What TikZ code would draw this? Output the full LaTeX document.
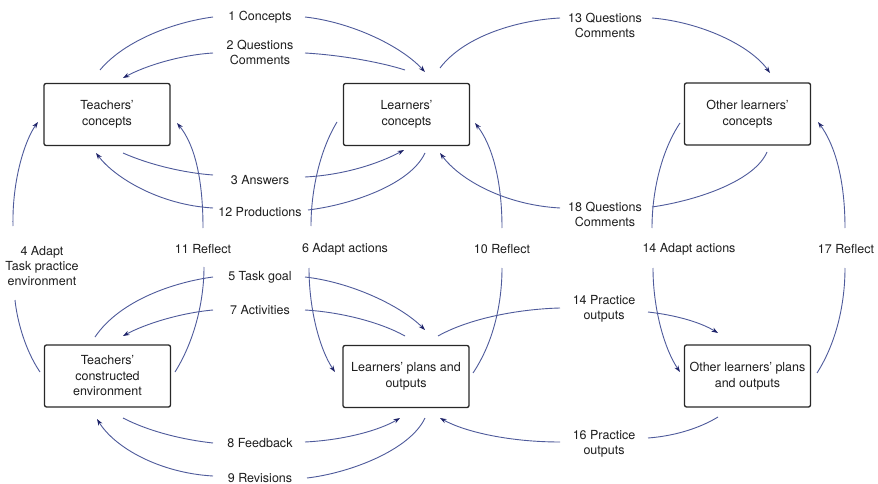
\documentclass[tikz,border=0pt]{standalone}
\usepackage{fontspec}
\setmainfont{TeX Gyre Heros}
\usetikzlibrary{arrows.meta}
\definecolor{lnc}{RGB}{78,90,155}
\definecolor{tipc}{RGB}{30,35,105}
\definecolor{txc}{RGB}{30,30,30}
\definecolor{boxc}{RGB}{40,40,40}
\tikzset{
  box/.style={draw=boxc, line width=1.3pt, rounded corners=2pt, minimum width=126pt, minimum height=62pt, align=center, text=txc, inner sep=2pt, font=\fontsize{12.5}{15.5}\selectfont},
  lab/.style={align=center, text=txc, inner sep=0pt, font=\fontsize{12.5}{15}\selectfont},
  ln/.style={draw=lnc, line width=0.9pt},
  arr/.style={ln, -{Stealth[length=6.5pt,width=4.5pt,color=tipc,fill=tipc]}}
}
\begin{document}
\begin{tikzpicture}[x=1pt,y=-1pt]
\useasboundingbox (0,0) rectangle (878,484);
\fill[white] (0,0) rectangle (878,484);
% boxes
\node[box] (tc) at (107,114.5) {Teachers’\\concepts};
\node[box] (lc) at (406.5,114.5) {Learners’\\concepts};
\node[box] (oc) at (747.5,114) {Other learners’\\concepts};
\node[box] (te) at (107.5,376) {Teachers’\\constructed\\environment};
\node[box] (lp) at (406,376.5) {Learners’ plans and\\outputs};
\node[box] (op) at (747.5,376) {Other learners’ plans\\and outputs};
% labels
\node[lab] (l1) at (260,17) {1 Concepts};
\node[lab] (l2) at (260,52) {2 Questions\\Comments};
\node[lab] (l3) at (260,180) {3 Answers};
\node[lab] (l12) at (260,212) {12 Productions};
\node[lab] (l13) at (605,25) {13 Questions\\Comments};
\node[lab] (l18) at (605,214) {18 Questions\\Comments};
\node[lab] (l4) at (42,266) {4 Adapt\\Task practice\\environment};
\node[lab] (l11) at (203,249) {11 Reflect};
\node[lab] (l6) at (345,249) {6 Adapt actions};
\node[lab] (l5) at (260,277) {5 Task goal};
\node[lab] (l7) at (260,310) {7 Activities};
\node[lab] (l8) at (260,443) {8 Feedback};
\node[lab] (l9) at (260,478) {9 Revisions};
\node[lab] (l10) at (502,249) {10 Reflect};
\node[lab] (l14a) at (689,249) {14 Adapt actions};
\node[lab] (l17) at (846,249) {17 Reflect};
\node[lab] (l14p) at (604,309) {14 Practice\\outputs};
\node[lab] (l16) at (604,444) {16 Practice\\outputs};
% connector end points
\coordinate (e1a) at (100,70);   \coordinate (e1b) at (213,17);
\coordinate (e1c) at (305,17);   \coordinate (e1d) at (425,72);
\coordinate (e2a) at (405,70);   \coordinate (e2b) at (305,53);
\coordinate (e2c) at (213,53);   \coordinate (e2d) at (123,78);
\coordinate (e3a) at (123,153);  \coordinate (e3b) at (213,175);
\coordinate (e3c) at (305,177);  \coordinate (e3d) at (404,150);
\coordinate (e12a) at (425,153); \coordinate (e12b) at (308,210);
\coordinate (e12c) at (213,208); \coordinate (e12d) at (96,153);
\coordinate (e13a) at (440,68);  \coordinate (e13b) at (560,18);
\coordinate (e13c) at (652,18);  \coordinate (e13d) at (770,73);
\coordinate (e18a) at (767,152); \coordinate (e18b) at (652,207);
\coordinate (e18c) at (560,208); \coordinate (e18d) at (440,153);
\coordinate (e4a) at (40,372);   \coordinate (e4b) at (15,300);
\coordinate (e4c) at (13,226);   \coordinate (e4d) at (38,122);
\coordinate (e11a) at (175,372); \coordinate (e11b) at (204,267);
\coordinate (e11c) at (203,228); \coordinate (e11d) at (177,123);
\coordinate (e6a) at (337,122);  \coordinate (e6b) at (311,226);
\coordinate (e6c) at (309,268);  \coordinate (e6d) at (335,372);
\coordinate (e10a) at (473,373); \coordinate (e10b) at (502,268);
\coordinate (e10c) at (502,228); \coordinate (e10d) at (475,123);
\coordinate (e14a) at (680,123); \coordinate (e14b) at (652,228);
\coordinate (e14c) at (653,268); \coordinate (e14d) at (680,372);
\coordinate (e17a) at (817,373); \coordinate (e17b) at (845,268);
\coordinate (e17c) at (845,228); \coordinate (e17d) at (818,122);
\coordinate (e5a) at (95,337);   \coordinate (e5b) at (213,277);
\coordinate (e5c) at (305,277);  \coordinate (e5d) at (425,330);
\coordinate (e7a) at (405,336);  \coordinate (e7b) at (305,310);
\coordinate (e7c) at (213,310);  \coordinate (e7d) at (123,336);
\coordinate (e8a) at (123,418);  \coordinate (e8b) at (213,443);
\coordinate (e8c) at (305,442);  \coordinate (e8d) at (400,418);
\coordinate (e9a) at (425,418);  \coordinate (e9b) at (307,478);
\coordinate (e9c) at (213,476);  \coordinate (e9d) at (97,419);
\coordinate (e15a) at (438,336); \coordinate (e15b) at (560,308);
\coordinate (e15c) at (648,312); \coordinate (e15d) at (718,333);
\coordinate (e16a) at (718,417); \coordinate (e16b) at (648,438);
\coordinate (e16c) at (560,442); \coordinate (e16d) at (440,418);
% connectors
\draw[ln] (e1a) .. controls (125,40) and (175,22) .. (e1b);
\draw[arr] (e1c) .. controls (350,22) and (400,45) .. (e1d);
\draw[ln] (e2a) .. controls (380,62) and (340,55) .. (e2b);
\draw[arr] (e2c) .. controls (180,55) and (145,66) .. (e2d);
\draw[ln] (e3a) .. controls (150,165) and (185,173) .. (e3b);
\draw[arr] (e3c) .. controls (345,175) and (380,163) .. (e3d);
\draw[ln] (e12a) .. controls (410,185) and (350,205) .. (e12b);
\draw[arr] (e12c) .. controls (160,205) and (115,178) .. (e12d);
\draw[ln] (e13a) .. controls (465,35) and (520,20) .. (e13b);
\draw[arr] (e13c) .. controls (700,22) and (750,45) .. (e13d);
\draw[ln] (e18a) .. controls (755,180) and (700,200) .. (e18b);
\draw[arr] (e18c) .. controls (505,205) and (460,180) .. (e18d);
\draw[ln] (e4a) .. controls (25,350) and (17,320) .. (e4b);
\draw[arr] (e4c) .. controls (12,180) and (25,140) .. (e4d);
\draw[ln] (e11a) .. controls (195,340) and (204,300) .. (e11b);
\draw[arr] (e11c) .. controls (203,180) and (195,145) .. (e11d);
\draw[ln] (e6a) .. controls (320,150) and (311,190) .. (e6b);
\draw[arr] (e6c) .. controls (309,310) and (320,350) .. (e6d);
\draw[ln] (e10a) .. controls (495,340) and (502,300) .. (e10b);
\draw[arr] (e10c) .. controls (502,180) and (492,145) .. (e10d);
\draw[ln] (e14a) .. controls (662,150) and (652,190) .. (e14b);
\draw[arr] (e14c) .. controls (653,310) and (665,350) .. (e14d);
\draw[ln] (e17a) .. controls (838,340) and (845,300) .. (e17b);
\draw[arr] (e17c) .. controls (845,180) and (835,145) .. (e17d);
\draw[ln] (e5a) .. controls (120,300) and (175,282) .. (e5b);
\draw[arr] (e5c) .. controls (350,282) and (400,305) .. (e5d);
\draw[ln] (e7a) .. controls (380,322) and (340,312) .. (e7b);
\draw[arr] (e7c) .. controls (180,313) and (145,324) .. (e7d);
\draw[ln] (e8a) .. controls (150,432) and (185,440) .. (e8b);
\draw[arr] (e8c) .. controls (345,440) and (380,430) .. (e8d);
\draw[ln] (e9a) .. controls (410,450) and (350,473) .. (e9b);
\draw[arr] (e9c) .. controls (160,473) and (115,448) .. (e9d);
\draw[ln] (e15a) .. controls (470,318) and (520,309) .. (e15b);
\draw[arr] (e15c) .. controls (675,315) and (700,322) .. (e15d);
\draw[ln] (e16a) .. controls (700,428) and (675,436) .. (e16b);
\draw[arr] (e16c) .. controls (510,442) and (465,432) .. (e16d);
\end{tikzpicture}
\end{document}
